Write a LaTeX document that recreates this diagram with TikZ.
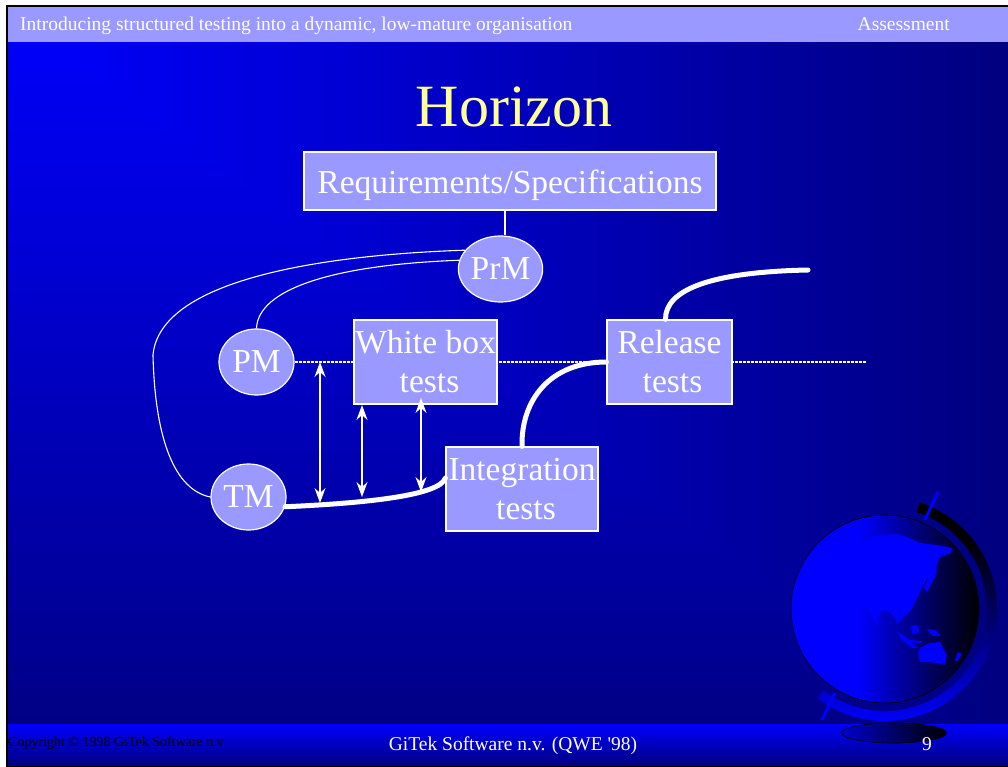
\documentclass[tikz,border=0pt]{standalone}
\usepackage{fontspec}
\setmainfont{Liberation Serif}
\usetikzlibrary{arrows.meta,shapes.geometric}

\definecolor{slidebright}{RGB}{0,0,255}
\definecolor{slidedark}{RGB}{0,0,128}
\definecolor{lilac}{RGB}{153,153,255}
\definecolor{titleyellow}{RGB}{255,255,153}
\definecolor{globemid}{RGB}{0,0,96}
\pgfdeclarehorizontalshading{globeshade}{100bp}{color(0bp)=(slidebright); color(43bp)=(slidebright); color(62bp)=(globemid); color(75bp)=(black); color(100bp)=(black)}
\pgfdeclareverticalshading{ringshade}{100bp}{color(0bp)=(slidebright); color(25bp)=(slidebright); color(45bp)=(slidedark); color(66bp)=(black); color(100bp)=(black)}

\pgfdeclarelayer{bg}
\pgfdeclarelayer{under}
\pgfsetlayers{bg,under,main}

\begin{document}
\begin{tikzpicture}[x=1pt,y=-1pt,
  box/.style={draw=white, line width=1.2pt, fill=lilac, text=white, inner sep=0pt,
    align=center, font=\fontsize{33.5}{39}\selectfont},
  role/.style={ellipse, draw=white, line width=1.2pt, fill=lilac, text=white, inner sep=0pt,
    minimum width=75pt, minimum height=66pt, font=\fontsize{33.5}{39}\selectfont},
  thin link/.style={white, line width=1.1pt},
  flow/.style={white, line width=5pt, line cap=round},
  both ways/.style={white, line width=1.2pt,
    {Stealth[length=15pt,width=11pt,inset=5pt]}-{Stealth[length=15pt,width=11pt,inset=5pt]}},
  horizon line/.style={white, line width=1.5pt, dash pattern=on 3pt off 1pt},
  small caption/.style={inner sep=0pt, font=\fontsize{19.5}{22}\selectfont}
]
\useasboundingbox (0,0) rectangle (1008,767);

% slide background: frame, corner gradient, header and footer bands
\begin{pgfonlayer}{bg}
  \fill[white] (0,0) rectangle (1008,767);
  \fill[black] (6,5) rectangle (1008,767);
  \fill[slidedark] (8,7) rectangle (1008,765);
  \foreach \i in {80,79,...,1}{
    \pgfmathtruncatemacro\p{round(100*\i/80)}
    \fill[slidedark!\p!slidebright] (8,7) rectangle ({8+12.5*\i}, {7+9.475*\i});
  }
  \fill[lilac] (8,7) rectangle (1008,42);
  \shade[top color=slidebright, bottom color=slidedark] (8,724) rectangle (1008,765);
\end{pgfonlayer}

% header and title
\node[small caption, anchor=base west, text=white] (hdrtitle) at (20,31)
  {Introducing structured testing into a dynamic, low-mature organisation};
\node[small caption, anchor=base east, text=white] (hdrsection) at (950,31) {Assessment};
\node[anchor=base, text=titleyellow, inner sep=0pt, font=\fontsize{60}{70}\selectfont] (title) at (514,127) {Horizon};

% boxes and roles
\node[box, minimum width=412pt, minimum height=58pt, text height=30pt, text depth=4pt] (req) at (510,181)
  {Requirements/Specifications};
\node[role] (prm) at (500.5,269) {PrM};
\node[role] (pm) at (256.5,362) {PM};
\node[role] (tm) at (248.5,497) {TM};
\node[box, minimum width=143pt, minimum height=84pt] (wbt) at (425.5,362) {White box\\\hspace*{8pt}tests};
\node[box, minimum width=125pt, minimum height=84pt] (rel) at (669.5,362) {Release\\\hspace*{6pt}tests};
\node[box, minimum width=152pt, minimum height=84pt] (int) at (522,489) {Integration\\\hspace*{8pt}tests};

\coordinate (relout) at (808,270);
\coordinate (horizonend) at (866,362);
\coordinate (a1t) at (320,362);
\coordinate (a1b) at (320,503);
\coordinate (a2t) at (362,405);
\coordinate (a2b) at (362,497);
\coordinate (a3t) at (421,398);
\coordinate (a3b) at (421,492);

% dotted horizon running behind the boxes
\begin{pgfonlayer}{under}
  \draw[horizon line] (pm.east) -- (horizonend);
\end{pgfonlayer}

% thin links
\draw[thin link] ([xshift=-5pt]req.south) -- ([xshift=-5pt]req.south |- prm.north);
\draw[thin link] (pm.north) .. controls (258,290) and (330,265) .. (prm.168);
\draw[thin link] (prm.152) .. controls (320,255) and (160,280) .. (153,355)
  .. controls (155,440) and (175,490) .. (tm.west);

% bold flow
\draw[flow] (tm.-15) .. controls (370,503) and (440,495) .. ([yshift=11pt]int.west);
\draw[flow] (int.north) .. controls (521,400) and (550,362) .. (rel.west);
\draw[flow] ([xshift=-4pt]rel.north) .. controls (665,290) and (710,272) .. (relout);

% two-way arrows
\draw[both ways] (a1t) -- (a1b);
\draw[both ways] (a2t) -- (a2b);
\draw[both ways] (a3t) -- (a3b);

% globe
\shade[shading=globeshade] (885,609) circle[radius=94];
\begin{scope}
  \clip (885,609) circle[radius=94];
  \fill[slidebright] (833,588) -- (827,572) -- (830,558) -- (847,548) -- (873,537) -- (880,535)
    -- (897,534) -- (907,537) -- (920,543) -- (937,545) -- (952,548) -- (951,553) -- (940,557)
    -- (937,565) -- (932,573) -- (927,578) -- (922,588) -- (917,598) -- (913,607) -- (907,615)
    -- (902,618) -- (898,625) -- (895,618) -- (890,612) -- (883,610) -- (878,617) -- (878,627)
    -- (870,612) -- (863,603) -- (847,602) -- cycle;
  \fill[slidebright] (927,562) -- (935,560) -- (937,572) -- (932,583) -- (927,592) -- (924,588) -- (928,578) -- cycle;
  \fill[slidebright] (898,632) -- (910,640) -- (918,648) -- (912,648) -- (900,638) -- cycle;
  \fill[slidebright] (911,626) -- (918,625) -- (919,633) -- (912,634) -- cycle;
  \fill[slidebright] (927,629) -- (936,630) -- (941,636) -- (932,636) -- cycle;
  \fill[slidebright] (908,640) -- (922,641) -- (921,643) -- (908,642) -- cycle;
  \fill[slidebright] (920,648) -- (930,643) -- (940,642) -- (943,648) -- (947,655) -- (945,665)
    -- (937,663) -- (928,662) -- (920,662) -- (918,653) -- cycle;
  \fill[slidebright] (958,652) -- (962,654) -- (957,662) -- (955,660) -- cycle;
\end{scope}
\draw[black, line width=0.6pt] (885,609) circle[radius=94];
\begin{scope}[shift={(885,609)}]
  \shade[shading=ringshade]
    (-72:112) arc[start angle=-72, end angle=127, radius=112]
    -- (127:102) arc[start angle=127, end angle=-72, radius=102] -- cycle;
\end{scope}
\draw[slidebright, line width=3pt] (925,520) -- (938,492);
\draw[slidebright, line width=3pt] (835,693) -- (822,720);
\shade[left color=slidebright!80!black, right color=black] (894,733) ellipse[x radius=52.5, y radius=10];
\draw[black, line width=0.6pt] (894,733) ellipse[x radius=52.5, y radius=10];

% footer
\node[anchor=base west, text=black, inner sep=0pt, font=\fontsize{14}{16}\selectfont] (copy) at (8,746)
  {Copyright © 1998 GiTek Software n.v};
\node[small caption, anchor=base, text=white] (conf) at (513,750) {GiTek Software n.v. (QWE \textquotesingle 98)};
\node[small caption, anchor=base, text=white] (pageno) at (927,750) {9};
\end{tikzpicture}
\end{document}
